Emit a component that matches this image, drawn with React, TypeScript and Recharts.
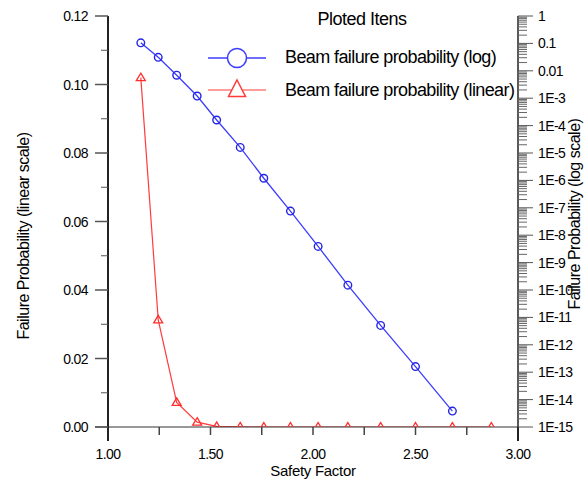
import { ComposedChart, Line, XAxis, YAxis, Legend } from 'recharts'

// safety factor for each computed point
const safetyFactor = [1.16, 1.245, 1.335, 1.435, 1.53, 1.645, 1.76, 1.89, 2.025, 2.17, 2.33, 2.5, 2.68, 2.87]

// failure probability read on the linear (left) axis
const probLinear = [0.102, 0.0313, 0.0072, 0.0014, 0.00016, 0.00002, 0, 0, 0, 0, 0, 0, 0, 0]

// failure probability read on the log (right) axis
const probLog = [0.105, 0.031, 0.0069, 0.0012, 1.6e-4, 1.6e-5, 1.2e-6, 7.6e-8, 3.9e-9, 1.5e-10, 5.1e-12, 1.6e-13, 3.8e-15]

const xTicks = [1, 1.25, 1.5, 1.75, 2, 2.25, 2.5, 2.75, 3]
const xTickLabels = ['1.00', '', '1.50', '', '2.00', '', '2.50', '', '3.00']

const linTicks = [0, 0.01, 0.02, 0.03, 0.04, 0.05, 0.06, 0.07, 0.08, 0.09, 0.1, 0.11, 0.12]
const linTickLabels = ['0.00', '', '0.02', '', '0.04', '', '0.06', '', '0.08', '', '0.10', '', '0.12']

const logDecades = [-15, -14, -13, -12, -11, -10, -9, -8, -7, -6, -5, -4, -3, -2, -1, 0]
const logTickLabels = ['1E-15', '1E-14', '1E-13', '1E-12', '1E-11', '1E-10', '1E-9', '1E-8', '1E-7', '1E-6', '1E-5', '1E-4', '1E-3', '0.01', '0.1', '1']

const FONT = '"Liberation Sans", Arial, sans-serif'
const BLUE = '#3c3cff'
const RED = '#ff3b3b'
const INK = '#000'

// 1..9 x 10^k per decade, only the power itself for the last one
const logTicks: number[] = []
logDecades.forEach((k) => {
  const base = Math.pow(10, k)
  const mults = k === 0 ? [1] : [1, 2, 3, 4, 5, 6, 7, 8, 9]
  mults.forEach((m) => logTicks.push(m * base))
})

const data = safetyFactor.map((sf, i) => ({
  sf,
  lin: probLinear[i],
  log: probLog[i],
}))

function BottomTick(props: any) {
  const { x, y, index } = props
  const label = xTickLabels[index]
  const isEnd = index === 0 || index === xTicks.length - 1
  return (
    <g>
      {index === 0 && (
        <line x1={x - 13} y1={y} x2={x} y2={y} stroke="#333" strokeWidth={1} />
      )}
      <line
        x1={x}
        y1={y}
        x2={x}
        y2={y + (isEnd ? 14 : 8)}
        stroke={isEnd ? '#222' : '#444'}
        strokeWidth={isEnd ? 2 : 1.5}
      />
      {label && (
        <text x={x} y={y + 32} textAnchor="middle" fontSize={14} letterSpacing={-0.6} fontFamily={FONT} fill={INK}>
          {label}
        </text>
      )}
    </g>
  )
}

function LeftTick(props: any) {
  const { x, y, index } = props
  const label = linTickLabels[index]
  const major = label !== ''
  return (
    <g>
      <line x1={x - (major ? 13 : 7)} y1={y} x2={x} y2={y} stroke="#555" strokeWidth={major ? 1.5 : 1} />
      {major && (
        <text x={x - 20} y={y + 5} textAnchor="end" fontSize={14} letterSpacing={-0.6} fontFamily={FONT} fill={INK}>
          {label}
        </text>
      )}
    </g>
  )
}

function RightTick(props: any) {
  const { x, y, payload } = props
  const exp = Math.log10(payload.value)
  const major = Math.abs(exp - Math.round(exp)) < 1e-6
  const label = major ? logTickLabels[logDecades.indexOf(Math.round(exp))] : ''
  return (
    <g>
      <line x1={x} y1={y} x2={x + (major ? 15 : 9)} y2={y} stroke={major ? '#555' : '#666'} strokeWidth={1} />
      {major && (
        <text x={x + 20} y={y + 5} textAnchor="start" fontSize={14} letterSpacing={-0.6} fontFamily={FONT} fill={INK}>
          {label}
        </text>
      )}
    </g>
  )
}

function CircleDot(props: any) {
  const { cx, cy, index } = props
  if (cx == null || cy == null) return <g key={index} />
  return <circle key={index} cx={cx} cy={cy} r={3.8} fill="none" stroke="#2424e8" strokeWidth={1.4} />
}

function TriangleDot(props: any) {
  const { cx, cy, index } = props
  if (cx == null || cy == null) return <g key={index} />
  return (
    <path
      key={index}
      d={`M${cx},${cy - 4.5} L${cx + 4.5},${cy + 3} L${cx - 4.5},${cy + 3} Z`}
      fill="none"
      stroke="#ff2f2f"
      strokeWidth={1.3}
    />
  )
}

function PlotLegend() {
  return (
    <svg width={340} height={110} style={{ display: 'block' }}>
      <text x={162} y={25} textAnchor="middle" fontSize={18} letterSpacing={-0.5} fontFamily={FONT} fill={INK}>
        Ploted Itens
      </text>

      <line x1={8} y1={58} x2={66} y2={58} stroke={BLUE} strokeWidth={1.5} />
      <circle cx={37} cy={58} r={9.5} fill="#fff" stroke={BLUE} strokeWidth={1.5} />
      <text x={85} y={63} fontSize={18} letterSpacing={-0.6} fontFamily={FONT} fill={INK}>
        Beam failure probability (log)
      </text>

      <line x1={8} y1={90} x2={66} y2={90} stroke={RED} strokeWidth={1.2} />
      <path d="M37,80 L45.5,96.5 L28.5,96.5 Z" fill="#fff" stroke={RED} strokeWidth={1.5} />
      <text x={85} y={96} fontSize={18} letterSpacing={-0.6} fontFamily={FONT} fill={INK}>
        Beam failure probability (linear)
      </text>
    </svg>
  )
}

function LeftTitle() {
  return (
    <text x={29} y={236} transform="rotate(-90 29 236)" textAnchor="middle" fontSize={16} letterSpacing={-0.5} fontFamily={FONT} fill={INK}>
      Failure Probability (linear scale)
    </text>
  )
}

function RightTitle() {
  return (
    <text x={580} y={214} transform="rotate(-90 580 214)" textAnchor="middle" fontSize={16} letterSpacing={-0.5} fontFamily={FONT} fill={INK}>
      Failure Probability (log scale)
    </text>
  )
}

function BottomTitle() {
  return (
    <text x={313} y={476} textAnchor="middle" fontSize={15} letterSpacing={-0.3} fontFamily={FONT} fill={INK}>
      Safety Factor
    </text>
  )
}

export default function App() {
  return (
    <div style={{ position: 'fixed', left: 0, top: 0, width: 585, height: 484, background: '#fff' }}>
      <ComposedChart
        width={585}
        height={484}
        data={data}
        margin={{ top: 16, right: 7, bottom: 27, left: 48 }}
        style={{ fontFamily: FONT }}
      >
        <XAxis
          dataKey="sf"
          type="number"
          domain={[1, 3]}
          ticks={xTicks}
          interval={0}
          height={30}
          tickSize={0}
          tickMargin={0}
          tickLine={false}
          axisLine={{ stroke: '#333', strokeWidth: 1 }}
          tick={<BottomTick />}
          allowDataOverflow
          label={<BottomTitle />}
        />

        <YAxis
          yAxisId="lin"
          orientation="left"
          type="number"
          domain={[0, 0.12]}
          ticks={linTicks}
          interval={0}
          width={60}
          tickSize={0}
          tickMargin={0}
          tickLine={false}
          axisLine={{ stroke: '#222', strokeWidth: 2 }}
          tick={<LeftTick />}
          allowDataOverflow
          label={<LeftTitle />}
        />

        <YAxis
          yAxisId="log"
          orientation="right"
          scale="log"
          type="number"
          domain={[1e-15, 1]}
          ticks={logTicks}
          interval={0}
          width={60}
          tickSize={0}
          tickMargin={0}
          tickLine={false}
          axisLine={{ stroke: '#222', strokeWidth: 1.5 }}
          tick={<RightTick />}
          allowDataOverflow
          label={<RightTitle />}
        />

        <Legend
          layout="vertical"
          align="center"
          verticalAlign="middle"
          wrapperStyle={{ left: 200, top: 0, width: 340, height: 110 }}
          content={() => <PlotLegend />}
        />

        <Line
          yAxisId="log"
          dataKey="log"
          type="linear"
          stroke={BLUE}
          strokeWidth={1.3}
          dot={CircleDot}
          activeDot={false}
          isAnimationActive={false}
        />

        <Line
          yAxisId="lin"
          dataKey="lin"
          type="linear"
          stroke={RED}
          strokeWidth={1.2}
          dot={TriangleDot}
          activeDot={false}
          isAnimationActive={false}
        />
      </ComposedChart>
    </div>
  )
}
